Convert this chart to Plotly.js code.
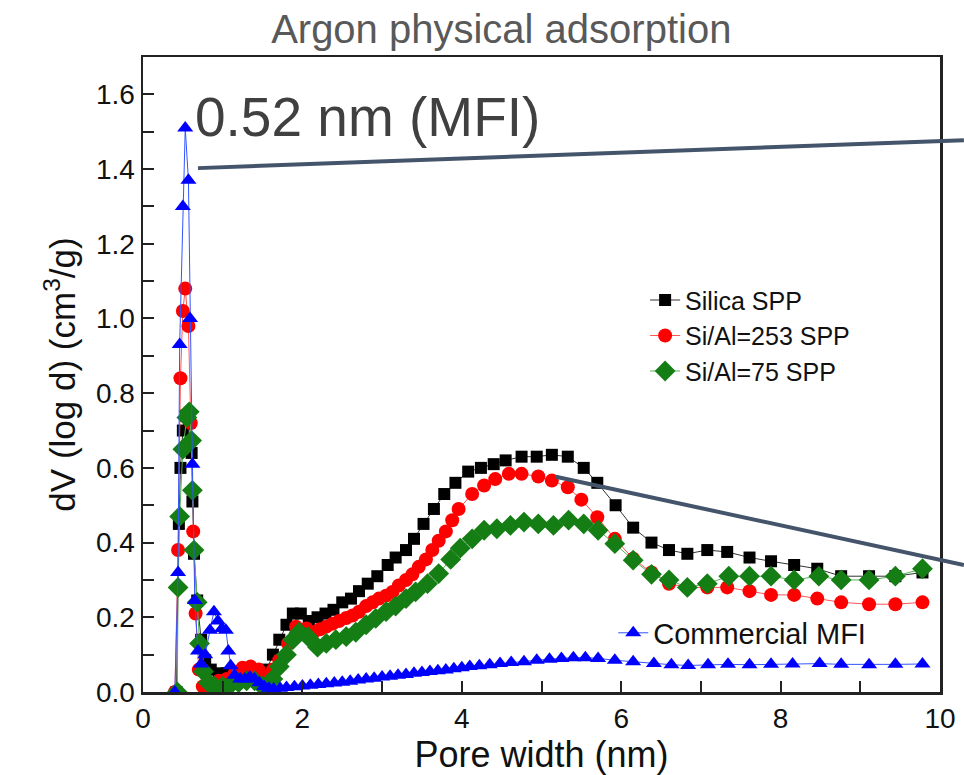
<!DOCTYPE html>
<html>
<head>
<meta charset="utf-8">
<script src="https://cdn.plot.ly/plotly-3.0.1.min.js"></script>
<style>
  html, body { margin: 0; padding: 0; background: #ffffff; }
  #chart { width: 964px; height: 775px; }
</style>
</head>
<body>
<div id="chart"></div>
<script>
// ---------- data ----------
const silicaX = [0.42,0.45,0.47,0.50,0.54,0.58,0.61,0.62,0.64,0.68,0.73,0.78,0.85,0.95,1.05,1.15,1.25,1.35,1.45,1.55,1.63,1.71,1.80,1.88,1.98,2.08,2.19,2.29,2.39,2.50,2.61,2.71,2.82,2.94,3.07,3.17,3.30,3.40,3.52,3.65,3.78,3.92,4.08,4.24,4.40,4.55,4.75,4.94,5.13,5.33,5.53,5.70,5.93,6.15,6.38,6.60,6.83,7.08,7.33,7.61,7.88,8.17,8.46,8.76,9.11,9.44,9.78];
const silicaY = [0.00,0.45,0.60,0.70,0.74,0.72,0.64,0.51,0.37,0.245,0.14,0.085,0.06,0.05,0.05,0.052,0.05,0.05,0.05,0.06,0.10,0.14,0.18,0.21,0.21,0.19,0.20,0.21,0.22,0.24,0.25,0.27,0.29,0.31,0.34,0.36,0.38,0.41,0.45,0.49,0.53,0.56,0.59,0.60,0.61,0.62,0.63,0.63,0.635,0.63,0.60,0.56,0.50,0.44,0.40,0.38,0.37,0.38,0.375,0.36,0.35,0.34,0.33,0.31,0.31,0.31,0.32];

const al253X = [0.40,0.44,0.47,0.50,0.53,0.57,0.60,0.63,0.66,0.70,0.75,0.85,0.95,1.05,1.15,1.25,1.35,1.45,1.55,1.63,1.71,1.82,1.92,2.05,2.14,2.22,2.30,2.38,2.46,2.55,2.63,2.71,2.80,2.88,2.96,3.05,3.13,3.21,3.30,3.38,3.46,3.55,3.63,3.71,3.80,3.88,3.96,4.13,4.28,4.42,4.59,4.75,4.96,5.13,5.33,5.50,5.70,5.92,6.15,6.38,6.60,6.83,7.08,7.33,7.61,7.88,8.17,8.46,8.76,9.11,9.44,9.78];
const al253Y = [0.00,0.38,0.84,1.02,1.08,0.98,0.72,0.43,0.21,0.06,0.015,0.02,0.03,0.035,0.05,0.065,0.068,0.06,0.04,0.06,0.085,0.13,0.175,0.17,0.16,0.168,0.175,0.183,0.19,0.198,0.205,0.215,0.23,0.24,0.25,0.258,0.268,0.285,0.30,0.315,0.335,0.355,0.38,0.405,0.43,0.46,0.49,0.53,0.553,0.57,0.584,0.584,0.577,0.566,0.548,0.515,0.468,0.41,0.357,0.32,0.29,0.28,0.28,0.28,0.27,0.26,0.26,0.25,0.24,0.235,0.235,0.24];

const al75X = [0.43,0.44,0.46,0.50,0.55,0.58,0.61,0.62,0.64,0.68,0.71,0.76,0.82,0.90,1.00,1.10,1.20,1.30,1.40,1.50,1.56,1.63,1.71,1.80,1.88,1.96,2.07,2.19,2.30,2.42,2.55,2.67,2.80,2.92,3.05,3.17,3.30,3.42,3.57,3.71,3.86,3.98,4.13,4.28,4.44,4.61,4.78,4.96,5.15,5.34,5.53,5.71,5.92,6.15,6.38,6.60,6.83,7.08,7.35,7.61,7.88,8.17,8.48,8.76,9.11,9.44,9.78];
const al75Y = [0.00,0.28,0.47,0.65,0.735,0.75,0.673,0.54,0.38,0.24,0.13,0.055,0.025,0.015,0.015,0.02,0.025,0.03,0.03,0.015,0.01,0.035,0.068,0.10,0.14,0.16,0.148,0.12,0.13,0.14,0.148,0.16,0.18,0.197,0.215,0.23,0.25,0.268,0.29,0.317,0.355,0.385,0.41,0.433,0.437,0.446,0.455,0.45,0.446,0.46,0.45,0.433,0.397,0.353,0.315,0.30,0.28,0.29,0.31,0.31,0.31,0.30,0.31,0.30,0.30,0.31,0.33];

const mfiX = [0.40,0.44,0.46,0.50,0.53,0.57,0.59,0.62,0.65,0.69,0.73,0.78,0.84,0.89,0.94,0.99,1.04,1.07,1.10,1.15,1.22,1.28,1.34,1.40,1.46,1.52,1.58,1.64,1.72,1.80,1.90,2.00,2.10,2.20,2.30,2.40,2.50,2.60,2.70,2.80,2.90,3.00,3.10,3.20,3.30,3.40,3.50,3.60,3.70,3.80,3.90,4.00,4.10,4.22,4.35,4.48,4.62,4.78,4.94,5.10,5.25,5.40,5.55,5.71,5.92,6.15,6.41,6.63,6.84,7.09,7.34,7.61,7.88,8.15,8.49,8.76,9.11,9.44,9.78];
const mfiY = [0.00,0.32,0.93,1.30,1.51,1.37,1.00,0.61,0.245,0.11,0.075,0.10,0.165,0.215,0.19,0.17,0.165,0.11,0.07,0.045,0.035,0.035,0.04,0.035,0.025,0.015,0.01,0.008,0.01,0.012,0.014,0.016,0.018,0.02,0.022,0.024,0.026,0.029,0.032,0.035,0.037,0.04,0.042,0.045,0.047,0.05,0.052,0.055,0.057,0.059,0.062,0.065,0.068,0.07,0.073,0.076,0.079,0.081,0.085,0.088,0.09,0.092,0.092,0.09,0.085,0.081,0.076,0.073,0.071,0.073,0.074,0.073,0.074,0.075,0.076,0.074,0.073,0.074,0.075];

const seriesNames = ['Silica SPP', 'Si/Al=253 SPP', 'Si/Al=75 SPP', 'Commercial MFI'];
const chartTitle = 'Argon physical adsorption';
const peakLabel = '0.52 nm (MFI)';
const xTitle = 'Pore width (nm)';
const yTitle = 'dV (log d) (cm<sup>3</sup>/g)';

// ---------- chart ----------
const FONT = '"Liberation Sans", Arial, sans-serif';

const traces = [
  { x: silicaX, y: silicaY, name: seriesNames[0], type: 'scatter', mode: 'lines+markers',
    line: { color: '#333333', width: 1 },
    marker: { symbol: 'square', size: 12, color: '#000000' }, legend: 'legend' },
  { x: al253X, y: al253Y, name: seriesNames[1], type: 'scatter', mode: 'lines+markers',
    line: { color: '#ff5555', width: 1 },
    marker: { symbol: 'circle', size: 14, color: '#ff0000' }, legend: 'legend' },
  { x: al75X, y: al75Y, name: seriesNames[2], type: 'scatter', mode: 'lines+markers',
    line: { color: '#55b555', width: 1 },
    marker: { symbol: 'diamond', size: 16, color: '#147d14' }, legend: 'legend' },
  { x: mfiX, y: mfiY, name: seriesNames[3], type: 'scatter', mode: 'lines+markers',
    line: { color: '#3355ff', width: 1 },
    marker: { symbol: 'triangle-up', size: 14, color: '#0000ff' }, legend: 'legend2' }
];

const axisCommon = {
  showgrid: false, zeroline: false,
  showline: true, linecolor: '#222222', linewidth: 2.5, mirror: true,
  ticks: 'inside', ticklen: 11, tickwidth: 2, tickcolor: '#222222',
  tickfont: { family: FONT, size: 28, color: '#111111' }
};

const layout = {
  width: 964, height: 775,
  paper_bgcolor: '#ffffff', plot_bgcolor: '#ffffff',
  margin: { l: 143, r: 24, t: 57, b: 83 },
  title: { text: chartTitle, font: { family: FONT, size: 40, color: '#595959' },
           x: 0.52, xanchor: 'center', y: 0.962, yanchor: 'middle' },
  xaxis: Object.assign({}, axisCommon, {
    range: [0, 10], dtick: 2, tick0: 0,
    minor: { dtick: 1, ticks: 'inside', ticklen: 11, tickwidth: 2, tickcolor: '#222222' },
    title: { text: xTitle, font: { family: FONT, size: 36, color: '#111111' }, standoff: 10 }
  }),
  yaxis: Object.assign({}, axisCommon, {
    range: [0, 1.7], dtick: 0.2, tick0: 0, tickformat: '.1f',
    minor: { dtick: 0.1, ticks: 'inside', ticklen: 11, tickwidth: 2, tickcolor: '#222222' },
    title: { text: yTitle, font: { family: FONT, size: 35, color: '#111111' }, standoff: 10 }
  }),
  showlegend: true,
  legend: { x: 0.63, y: 0.561, xanchor: 'left', yanchor: 'middle',
            bgcolor: 'rgba(0,0,0,0)', borderwidth: 0,
            font: { family: FONT, size: 25, color: '#111111' }, tracegroupgap: 0 },
  legend2: { x: 0.59, y: 0.093, xanchor: 'left', yanchor: 'middle',
             bgcolor: 'rgba(0,0,0,0)', borderwidth: 0,
             font: { family: FONT, size: 29, color: '#111111' } },
  annotations: [
    { text: peakLabel, xref: 'paper', yref: 'paper', x: 0.063, y: 0.905,
      xanchor: 'left', yanchor: 'middle', showarrow: false,
      font: { family: FONT, size: 55, color: '#404040' } }
  ],
  shapes: [
    { type: 'line', xref: 'paper', yref: 'paper', x0: 0.069, y0: 0.825, x1: 1.03, y1: 0.869,
      line: { color: '#44546a', width: 4 } },
    { type: 'line', xref: 'paper', yref: 'paper', x0: 0.518, y0: 0.339, x1: 1.03, y1: 0.2,
      line: { color: '#44546a', width: 4 } }
  ]
};

Plotly.newPlot('chart', traces, layout, { displayModeBar: false, staticPlot: true });
</script>
</body>
</html>
